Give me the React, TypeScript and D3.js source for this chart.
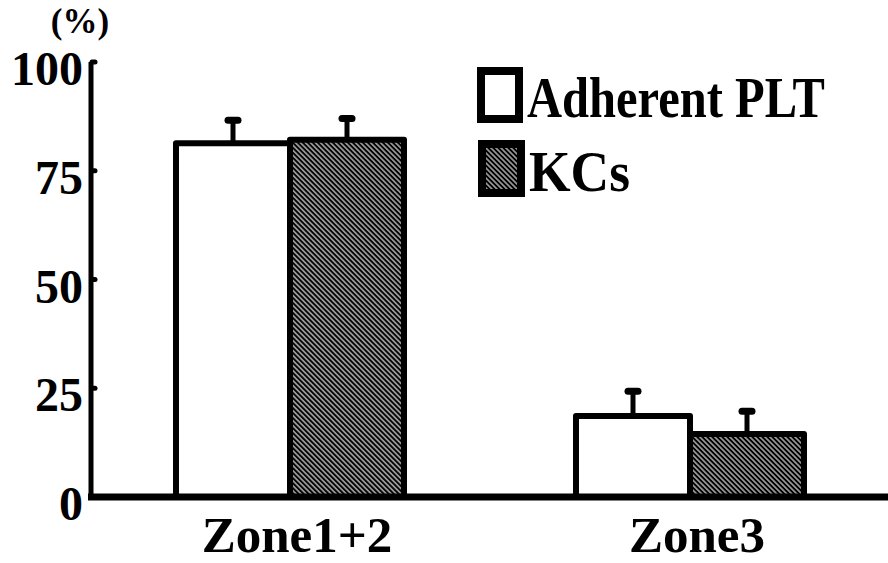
import React from "react";
import * as d3 from "d3";

const categories = ["Zone1+2", "Zone3"];
const seriesNames = ["Adherent PLT", "KCs"];
const adherentPLT = [81.3, 18.6];
const adherentPLTErr = [5.3, 5.7];
const kcs = [82.1, 14.5];
const kcsErr = [4.9, 5.2];
const yTicks = [0, 25, 50, 75, 100];
const yLabel = "(%)";

const W = 888;
const H = 563;
const FONT = "'Liberation Serif', 'Times New Roman', serif";

export default function App() {
  const x0 = d3.scaleBand<string>().domain(categories).range([90, 890]).paddingInner(0.43).paddingOuter(0.215);
  const x1 = d3.scaleBand<string>().domain(seriesNames).range([0, x0.bandwidth()]);
  const y = d3.scaleLinear().domain([0, 100]).range([497, 62]);

  const series = [
    { name: seriesNames[0], values: adherentPLT, errs: adherentPLTErr, fill: "#fff" },
    { name: seriesNames[1], values: kcs, errs: kcsErr, fill: "url(#hatch)" },
  ];

  return (
    <svg width={W} height={H} style={{ position: "absolute", left: 0, top: 0, background: "#fff" }}>
      <defs>
        <pattern id="hatch" width={3.54} height={3.54} patternUnits="userSpaceOnUse" patternTransform="rotate(-45)">
          <rect width={3.54} height={3.54} fill="#000" />
          <line x1={1.77} y1={0} x2={1.77} y2={3.54} stroke="#cccccc" strokeWidth={1.3} />
        </pattern>
      </defs>

      {/* bars */}
      {series.map((s) =>
        categories.map((c, i) => {
          const bx = (x0(c) as number) + (x1(s.name) as number);
          const bw = x1.bandwidth();
          const top = y(s.values[i]);
          const cx = bx + bw / 2;
          const capY = y(s.values[i] + s.errs[i]);
          return (
            <g key={s.name + c}>
              <line x1={cx} x2={cx} y1={top} y2={capY} stroke="#000" strokeWidth={5} />
              <line x1={cx - 5} x2={cx + 5} y1={capY} y2={capY} stroke="#000" strokeWidth={7} strokeLinecap="round" />
              <rect x={bx} y={top} width={bw} height={y(0) - top} fill={s.fill} stroke="#000" strokeWidth={6} strokeLinejoin="round" />
            </g>
          );
        })
      )}

      {/* y axis */}
      <line x1={91} x2={91} y1={y(100)} y2={y(0)} stroke="#000" strokeWidth={5} />
      {yTicks.map((t) => (
        <g key={t}>
          <line x1={92} x2={95} y1={y(t)} y2={y(t)} stroke="#000" strokeWidth={5} strokeLinecap="round" />
          <text x={83} y={y(t) + 23} textAnchor="end" fontFamily={FONT} fontWeight="bold" fontSize={48} fill="#000">
            {t}
          </text>
        </g>
      ))}
      <text x={80} y={33} textAnchor="middle" fontFamily={FONT} fontWeight="bold" fontSize={35} fill="#000">
        {yLabel}
      </text>

      {/* x axis */}
      <line x1={88} x2={W} y1={y(0)} y2={y(0)} stroke="#000" strokeWidth={7} />
      {categories.map((c) => (
        <text key={c} x={(x0(c) as number) + x0.bandwidth() / 2 + 7} y={552} textAnchor="middle" fontFamily={FONT} fontWeight="bold" fontSize={51} fill="#000">
          {c}
        </text>
      ))}

      {/* legend */}
      <rect x={481} y={71} width={38} height={48} fill="#fff" stroke="#000" strokeWidth={8} />
      <text x={527} y={117} fontFamily={FONT} fontWeight="bold" fontSize={56} textLength={298} lengthAdjust="spacingAndGlyphs" fill="#000">
        {seriesNames[0]}
      </text>
      <rect x={482} y={144} width={39} height={49} fill="url(#hatch)" stroke="#000" strokeWidth={8} />
      <text x={529} y={191} fontFamily={FONT} fontWeight="bold" fontSize={58} textLength={101} lengthAdjust="spacingAndGlyphs" fill="#000">
        {seriesNames[1]}
      </text>
    </svg>
  );
}
